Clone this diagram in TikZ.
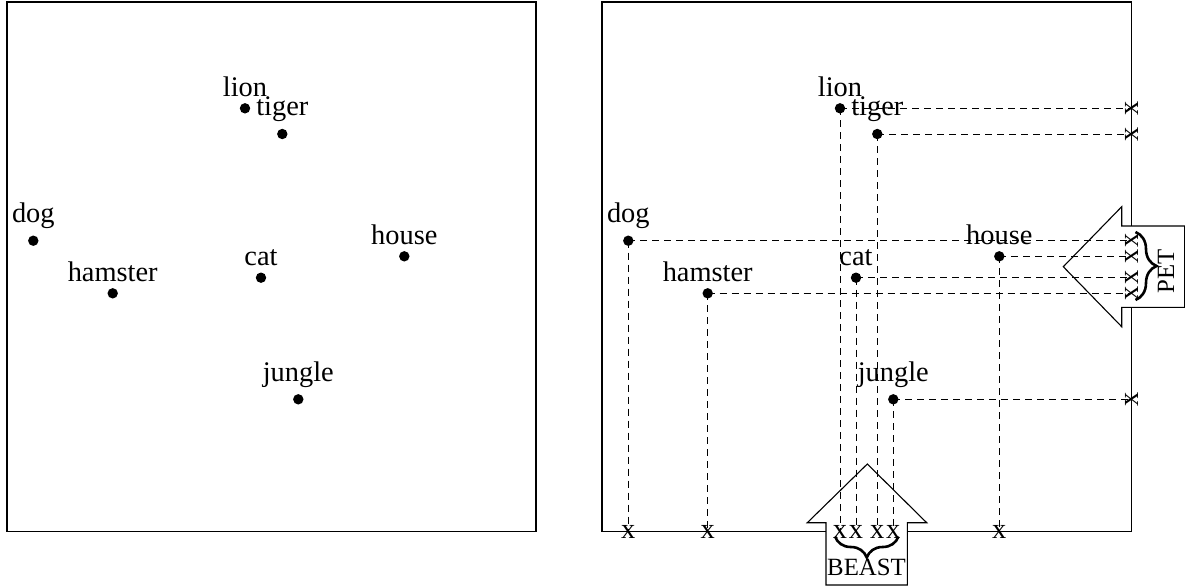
\documentclass[tikz,border=0pt]{standalone}
\usepackage{fontspec}
\setmainfont{Liberation Serif}
\usetikzlibrary{decorations.pathreplacing}
\tikzset{
  frame/.style={draw, line width=0.65pt},
  dotpt/.style={circle, fill=black, inner sep=0pt, minimum size=5.2pt},
  lab/.style={font=\fontsize{14.2}{16}\selectfont, inner sep=0pt},
  proj/.style={dash pattern=on 3.5pt off 2.5pt, line width=0.5pt},
  xmk/.style={font=\fontsize{14.2}{16}\selectfont, inner sep=0pt},
  bigarrow/.style={draw, fill=white, line width=0.55pt, line join=miter},
  brc/.style={decorate, decoration={brace, amplitude=10.5pt}, line width=1.3pt},
  tagtxt/.style={font=\fontsize{12.4}{14}\selectfont, inner sep=0pt}
}
\begin{document}
\begin{tikzpicture}[x=0.5pt, y=-0.5pt]
\useasboundingbox (0,0) rectangle (1185,586);
% frames
\draw[frame] (7,2) rectangle (536,531.5);
\draw[frame] (602,2) rectangle (1131.5,531.5);
% big arrows
\draw[bigarrow] (867.3,464) -- (926.7,522.7) -- (907.3,522.7) -- (907.3,585) -- (826,585) -- (826,522.7) -- (807.3,522.7) -- cycle;
\draw[bigarrow] (1063.3,266.7) -- (1121.7,206.7) -- (1121.7,226) -- (1184.6,226) -- (1184.6,307.3) -- (1121.7,307.3) -- (1121.7,326.7) -- cycle;
% left panel points
\foreach \n/\x/\y in {lion/245/108.3, tiger/282.3/134, cat/261/277.7, house/404.3/256.3, jungle/298.3/399.3, dog/33.3/240.7, hamster/112.7/293.3} {
  \node[dotpt, label={[lab, label distance=3pt]above:\n}] (L\n) at (\x,\y) {};
}
% right panel points and projections
\foreach \n/\x/\y in {lion/245/108.3, tiger/282.3/134, cat/261/277.7, house/404.3/256.3, jungle/298.3/399.3, dog/33.3/240.7, hamster/112.7/293.3} {
  \node[dotpt, label={[lab, label distance=3pt]above:\n}] (R\n) at ({\x+595},\y) {};
  \node[xmk] (B\n) at ({\x+595},531.5) {x};
  \node[xmk, rotate=90] (E\n) at (1131.5,\y) {x};
  \draw[proj] (R\n.center) -- (B\n.center);
  \draw[proj] (R\n.center) -- (E\n.center);
}
% braces
\draw[brc] (898.5,536.5) -- (835,536.5);
\draw[brc] (1135.5,232) -- (1135.5,300);
% tags
\node[tagtxt, anchor=base] (beast) at (866.5,575) {BEAST};
\node[tagtxt, rotate=90] (pet) at (1166,271) {PET};
\end{tikzpicture}
\end{document}
